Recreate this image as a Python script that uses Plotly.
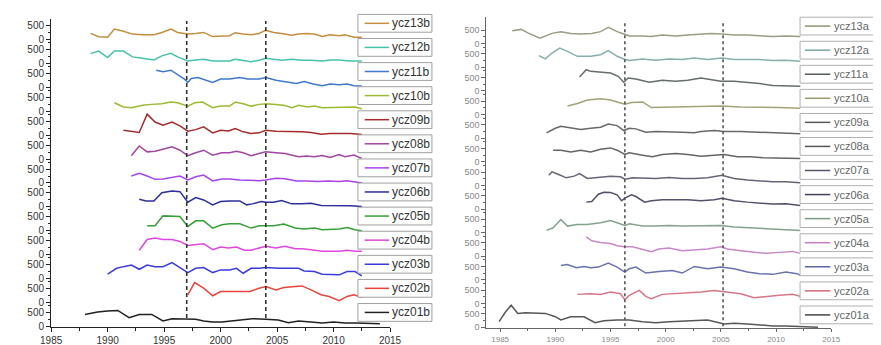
import plotly.graph_objects as go

W, H = 881, 345
FONT = "Arial, Liberation Sans, sans-serif"

# ---------------- left panel ("b" series) ----------------
years_ycz01b = [1988.0, 1989.1, 1990.0, 1990.9, 1991.9, 1992.8, 1993.9, 1994.9, 1995.7, 1996.4, 1997.1, 1997.8, 1998.5, 1999.3, 2000.1, 2001.0, 2002.0, 2002.8, 2004.0, 2005.1, 2006.0, 2006.9, 2008.0, 2009.0, 2010.0, 2011.0, 2012.0, 2013.1, 2014.1]
vals_ycz01b = [428, 512, 547, 571, 310, 428, 428, 190, 274, 274, 274, 250, 190, 155, 155, 190, 250, 274, 250, 226, 131, 190, 155, 119, 155, 119, 119, 95, 95]

years_ycz02b = [1997.1, 1997.7, 1998.5, 1999.3, 2000.0, 2000.8, 2001.7, 2002.6, 2003.4, 2004.0, 2004.9, 2005.6, 2006.6, 2007.2, 2008.0, 2008.9, 2009.6, 2010.5, 2011.2, 2011.8, 2012.5]
vals_ycz02b = [274, 714, 512, 238, 393, 393, 417, 393, 512, 571, 452, 536, 571, 595, 452, 274, 214, 60, 214, 274, 178]

years_ycz03b = [1990.0, 1990.8, 1991.4, 1992.1, 1992.8, 1993.5, 1994.2, 1994.9, 1995.7, 1996.4, 1997.1, 1997.8, 1998.5, 1999.3, 2000.0, 2000.8, 2001.4, 2002.0, 2002.7, 2003.4, 2004.0, 2005.1, 2006.0, 2006.9, 2007.4, 2008.3, 2009.0, 2009.7, 2010.5, 2011.2, 2011.9, 2012.5]
vals_ycz03b = [155, 369, 428, 488, 333, 488, 428, 428, 571, 393, 214, 369, 393, 214, 310, 310, 369, 190, 369, 369, 393, 369, 369, 369, 274, 250, 155, 155, 131, 250, 250, 95]

years_ycz04b = [1992.8, 1993.5, 1994.2, 1994.9, 1995.7, 1996.4, 1997.1, 1997.8, 1998.5, 1999.3, 2000.0, 2000.7, 2001.4, 2002.1, 2002.7, 2003.4, 2004.0, 2004.9, 2005.7, 2006.6, 2007.2, 2008.0, 2009.0, 2009.7, 2010.5, 2011.2, 2011.9, 2012.5]
vals_ycz04b = [155, 547, 595, 547, 547, 476, 333, 357, 393, 178, 274, 238, 274, 155, 155, 238, 297, 238, 297, 214, 214, 178, 120, 120, 120, 155, 120, 120]

years_ycz05b = [1993.5, 1994.2, 1994.9, 1995.7, 1996.4, 1997.1, 1997.8, 1998.5, 1999.3, 2000.1, 2000.8, 2001.7, 2002.7, 2003.4, 2004.0, 2004.7, 2005.6, 2006.6, 2007.4, 2008.3, 2009.0, 2009.7, 2010.5, 2011.2, 2011.9, 2012.5]
vals_ycz05b = [178, 178, 536, 536, 512, 155, 357, 357, 95, 214, 250, 250, 95, 178, 178, 178, 238, 95, 60, 95, 36, 36, 60, 119, 36, 0]

years_ycz06b = [1992.8, 1993.4, 1994.1, 1994.8, 1995.7, 1996.4, 1997.1, 1997.8, 1998.5, 1999.3, 2000.0, 2000.8, 2001.7, 2002.3, 2002.8, 2003.6, 2004.0, 2004.7, 2005.4, 2006.3, 2007.2, 2008.0, 2008.9, 2009.7, 2010.6, 2011.5, 2012.5]
vals_ycz06b = [274, 214, 214, 512, 570, 548, 167, 333, 250, 71, 190, 214, 214, 71, 107, 190, 167, 167, 226, 107, 107, 130, 48, 48, 48, 36, 12]

years_ycz07b = [1992.1, 1992.8, 1993.5, 1994.2, 1994.9, 1995.7, 1996.4, 1997.1, 1997.8, 1998.5, 1999.3, 2000.1, 2000.8, 2001.7, 2002.6, 2003.4, 2004.0, 2004.9, 2005.7, 2006.7, 2007.7, 2008.6, 2009.5, 2010.5, 2011.2, 2011.9, 2012.5]
vals_ycz07b = [250, 345, 250, 130, 143, 190, 250, 107, 226, 285, 71, 143, 143, 107, 83, 83, 107, 166, 155, 71, 71, 48, 71, 48, 83, 48, 0]

years_ycz08b = [1992.1, 1992.8, 1993.5, 1994.2, 1994.9, 1995.7, 1996.4, 1997.1, 1997.8, 1998.5, 1999.3, 2000.1, 2000.8, 2001.4, 2002.0, 2002.7, 2003.4, 2004.0, 2004.9, 2005.7, 2006.9, 2007.6, 2008.3, 2009.0, 2009.7, 2010.5, 2011.0, 2011.8, 2012.5]
vals_ycz08b = [120, 475, 260, 285, 357, 440, 320, 120, 226, 320, 143, 226, 226, 285, 226, 120, 200, 260, 226, 200, 83, 107, 83, 130, 60, 166, 83, 143, 24]

years_ycz09b = [1991.4, 1992.8, 1993.5, 1994.2, 1994.9, 1995.7, 1996.4, 1997.1, 1997.8, 1998.5, 1999.3, 2000.0, 2000.7, 2001.3, 2002.0, 2002.7, 2003.4, 2004.0, 2004.9, 2006.0, 2007.2, 2008.0, 2008.9, 2009.7, 2010.6, 2011.5, 2012.5]
vals_ycz09b = [178, 95, 760, 475, 357, 475, 333, 143, 200, 300, 83, 178, 155, 238, 120, 60, 83, 178, 143, 143, 120, 95, 36, 60, 60, 60, 24]

years_ycz10b = [1990.6, 1991.4, 1992.1, 1993.1, 1993.9, 1994.8, 1995.6, 1996.2, 1997.1, 1997.7, 1998.4, 1999.3, 2000.0, 2000.8, 2001.3, 2002.0, 2002.7, 2003.4, 2004.1, 2004.9, 2005.6, 2006.3, 2006.9, 2007.7, 2008.3, 2009.0, 2009.7, 2010.5, 2011.2, 2011.9, 2012.5]
vals_ycz10b = [310, 155, 130, 215, 250, 275, 333, 310, 180, 310, 333, 130, 190, 190, 333, 275, 180, 250, 275, 250, 215, 130, 215, 155, 190, 130, 130, 130, 155, 155, 95]

years_ycz11b = [1994.3, 1994.9, 1995.6, 1996.2, 1996.8, 1997.1, 1997.4, 1998.0, 1998.5, 1999.3, 2000.0, 2000.8, 2001.7, 2002.4, 2003.4, 2004.0, 2004.9, 2005.7, 2006.7, 2007.4, 2008.2, 2009.0, 2009.7, 2010.5, 2011.2, 2011.8, 2012.5]
vals_ycz11b = [620, 570, 620, 475, 300, 180, 320, 360, 300, 180, 300, 300, 360, 300, 300, 360, 260, 215, 140, 215, 120, 60, 120, 95, 120, 60, 50]

years_ycz12b = [1988.5, 1989.2, 1990.0, 1990.6, 1991.4, 1992.2, 1993.1, 1994.1, 1994.8, 1995.6, 1996.2, 1997.1, 1997.8, 1998.5, 1999.3, 2000.1, 2000.8, 2001.3, 2002.0, 2002.7, 2003.4, 2004.0, 2004.7, 2005.4, 2006.3, 2007.2, 2008.0, 2009.0, 2009.7, 2010.5, 2011.5, 2012.5]
vals_ycz12b = [357, 450, 215, 450, 450, 240, 190, 130, 275, 370, 240, 95, 130, 155, 95, 95, 95, 155, 120, 60, 120, 190, 155, 120, 155, 120, 120, 95, 130, 130, 95, 95]

years_ycz13b = [1988.5, 1989.2, 1990.0, 1990.6, 1991.4, 1992.2, 1993.1, 1994.1, 1994.8, 1995.6, 1996.2, 1997.1, 1997.8, 1998.5, 1999.3, 2000.1, 2000.8, 2001.3, 2002.0, 2002.7, 2003.4, 2004.0, 2004.7, 2005.4, 2006.3, 2006.9, 2007.6, 2008.3, 2009.0, 2009.7, 2010.5, 2011.0, 2011.8, 2012.5]
vals_ycz13b = [226, 107, 83, 380, 300, 200, 180, 180, 260, 380, 260, 200, 220, 260, 110, 140, 140, 250, 200, 180, 220, 340, 260, 220, 160, 200, 220, 200, 110, 180, 140, 180, 90, 90]

# ---------------- right panel ("a" series) ----------------
years_ycz01a = [1984.9, 1985.5, 1986.0, 1986.6, 1987.3, 1988.2, 1989.1, 1990.0, 1990.5, 1991.4, 1992.6, 1993.6, 1994.4, 1995.6, 1996.7, 1997.9, 1999.1, 2000.3, 2001.5, 2002.6, 2003.8, 2005.3, 2006.2, 2007.4, 2008.5, 2009.7, 2010.9, 2012.2, 2013.8]
vals_ycz01a = [210, 580, 827, 519, 543, 543, 519, 395, 272, 395, 395, 173, 247, 272, 272, 210, 173, 210, 235, 235, 272, 124, 148, 124, 86, 49, 49, 25, 0]

years_ycz02a = [1992.0, 1993.2, 1994.1, 1995.0, 1995.9, 1996.3, 1996.7, 1997.6, 1998.2, 1998.7, 1999.7, 2000.9, 2002.0, 2003.2, 2004.4, 2005.6, 2006.8, 2008.0, 2009.1, 2010.3, 2011.5, 2012.2]
vals_ycz02a = [346, 370, 346, 432, 370, 148, 309, 494, 272, 185, 346, 370, 395, 432, 494, 432, 370, 222, 272, 309, 346, 272]

years_ycz03a = [1990.5, 1991.1, 1991.9, 1992.6, 1993.2, 1993.9, 1994.8, 1995.6, 1996.3, 1996.7, 1997.3, 1998.2, 1999.4, 2000.6, 2001.5, 2002.6, 2003.8, 2005.0, 2006.2, 2007.4, 2008.5, 2009.7, 2010.9, 2011.9, 2012.2]
vals_ycz03a = [543, 580, 457, 506, 457, 482, 630, 482, 296, 420, 482, 259, 321, 358, 259, 506, 420, 482, 420, 296, 235, 210, 296, 235, 173]

years_ycz04a = [1992.8, 1993.3, 1994.1, 1995.0, 1995.6, 1996.3, 1997.0, 1997.9, 1998.7, 1999.4, 2000.3, 2001.5, 2002.6, 2003.8, 2005.0, 2005.6, 2006.8, 2008.0, 2009.1, 2010.3, 2011.5, 2012.2]
vals_ycz04a = [729, 580, 519, 482, 395, 358, 358, 272, 173, 272, 309, 210, 235, 272, 358, 272, 210, 148, 111, 148, 185, 111]

years_ycz05a = [1989.2, 1989.8, 1990.5, 1991.1, 1992.0, 1992.9, 1994.1, 1995.0, 1995.6, 1996.3, 1996.7, 1997.9, 1999.1, 2000.3, 2001.5, 2002.6, 2003.8, 2005.0, 2006.2, 2007.4, 2008.5, 2009.7, 2010.9, 2012.2]
vals_ycz05a = [86, 185, 494, 247, 309, 309, 370, 457, 370, 272, 333, 247, 247, 272, 247, 247, 272, 272, 210, 185, 185, 160, 123, 86]

years_ycz06a = [1992.8, 1993.3, 1993.9, 1994.4, 1995.0, 1995.6, 1996.0, 1996.3, 1996.9, 1997.3, 1998.1, 1998.7, 1999.7, 2000.9, 2002.0, 2003.2, 2004.4, 2005.1, 2006.2, 2007.4, 2008.5, 2009.7, 2010.9, 2012.2]
vals_ycz06a = [259, 284, 556, 630, 617, 531, 309, 408, 531, 469, 259, 309, 346, 346, 346, 309, 346, 408, 309, 259, 222, 185, 198, 136]

years_ycz07a = [1989.4, 1989.7, 1990.3, 1991.0, 1991.7, 1992.2, 1992.9, 1994.1, 1995.0, 1995.9, 1996.3, 1997.0, 1997.9, 1999.1, 2000.3, 2001.5, 2002.6, 2003.8, 2005.1, 2006.2, 2007.4, 2008.5, 2009.7, 2010.9, 2012.2]
vals_ycz07a = [383, 506, 408, 284, 346, 445, 259, 321, 346, 321, 235, 284, 284, 259, 296, 259, 259, 284, 383, 259, 198, 160, 136, 136, 99]

years_ycz08a = [1989.8, 1990.5, 1991.4, 1992.3, 1993.2, 1994.1, 1995.0, 1995.6, 1996.3, 1996.7, 1997.9, 1998.8, 1999.7, 2000.9, 2002.0, 2003.2, 2004.4, 2005.3, 2006.5, 2007.7, 2008.8, 2010.3, 2012.2]
vals_ycz08a = [432, 432, 370, 432, 370, 469, 519, 432, 272, 333, 247, 185, 272, 309, 272, 210, 247, 272, 185, 185, 148, 148, 124]

years_ycz09a = [1989.2, 1990.0, 1990.5, 1991.4, 1992.3, 1993.2, 1994.1, 1994.8, 1995.6, 1996.2, 1996.7, 1997.3, 1998.2, 1999.1, 2000.3, 2001.5, 2002.6, 2003.2, 2004.4, 2005.3, 2006.8, 2008.2, 2009.7, 2010.9, 2012.2]
vals_ycz09a = [198, 370, 445, 370, 321, 370, 408, 531, 469, 284, 370, 346, 222, 247, 247, 222, 198, 247, 284, 247, 247, 222, 198, 198, 160]

years_ycz10a = [1991.1, 1992.0, 1992.9, 1994.1, 1995.0, 1995.9, 1996.3, 1996.9, 1997.9, 1998.7, 2000.9, 2002.6, 2005.0, 2006.8, 2008.5, 2010.3, 2012.2]
vals_ycz10a = [321, 408, 543, 593, 543, 445, 383, 445, 469, 259, 284, 321, 321, 284, 284, 259, 235]

years_ycz11a = [1992.2, 1992.8, 1993.2, 1994.1, 1995.0, 1995.7, 1996.2, 1996.6, 1997.3, 1998.5, 1999.7, 2000.9, 2002.0, 2003.2, 2003.8, 2005.0, 2006.2, 2007.4, 2008.5, 2009.7, 2010.9, 2012.2]
vals_ycz11a = [519, 790, 729, 692, 667, 543, 321, 482, 445, 321, 395, 358, 395, 482, 445, 358, 358, 321, 272, 198, 198, 173]

years_ycz12a = [1988.5, 1989.1, 1989.7, 1990.4, 1991.1, 1992.0, 1993.2, 1994.1, 1994.8, 1995.6, 1996.2, 1996.7, 1997.9, 1999.1, 2000.3, 2001.5, 2002.6, 2003.8, 2005.1, 2006.2, 2007.4, 2008.5, 2009.7, 2010.9, 2012.2]
vals_ycz12a = [432, 309, 531, 716, 593, 407, 407, 469, 617, 407, 309, 247, 309, 260, 309, 284, 346, 284, 346, 284, 284, 284, 247, 260, 222]

years_ycz13a = [1986.1, 1986.9, 1987.6, 1988.6, 1989.7, 1990.5, 1991.4, 1992.3, 1993.3, 1994.1, 1994.8, 1995.6, 1996.2, 1996.7, 1997.9, 1998.7, 1999.7, 2000.9, 2002.0, 2003.2, 2004.1, 2005.1, 2006.2, 2007.4, 2008.5, 2009.7, 2010.9, 2012.2]
vals_ycz13a = [480, 530, 380, 200, 380, 445, 380, 360, 380, 445, 605, 445, 360, 285, 285, 260, 320, 285, 320, 360, 380, 360, 320, 320, 295, 260, 285, 260]

left_names = ["ycz01b", "ycz02b", "ycz03b", "ycz04b", "ycz05b", "ycz06b", "ycz07b",
              "ycz08b", "ycz09b", "ycz10b", "ycz11b", "ycz12b", "ycz13b"]
left_years = [years_ycz01b, years_ycz02b, years_ycz03b, years_ycz04b, years_ycz05b, years_ycz06b, years_ycz07b,
              years_ycz08b, years_ycz09b, years_ycz10b, years_ycz11b, years_ycz12b, years_ycz13b]
left_vals = [vals_ycz01b, vals_ycz02b, vals_ycz03b, vals_ycz04b, vals_ycz05b, vals_ycz06b, vals_ycz07b,
             vals_ycz08b, vals_ycz09b, vals_ycz10b, vals_ycz11b, vals_ycz12b, vals_ycz13b]
left_colors = ["#222222", "#e8453c", "#3b3be0", "#e046e0", "#35a035", "#2e2e9e", "#a844f0",
               "#a345a3", "#a52c2c", "#9cba32", "#4078d0", "#45c2ac", "#c48e3e"]

right_names = ["ycz01a", "ycz02a", "ycz03a", "ycz04a", "ycz05a", "ycz06a", "ycz07a",
               "ycz08a", "ycz09a", "ycz10a", "ycz11a", "ycz12a", "ycz13a"]
right_years = [years_ycz01a, years_ycz02a, years_ycz03a, years_ycz04a, years_ycz05a, years_ycz06a, years_ycz07a,
               years_ycz08a, years_ycz09a, years_ycz10a, years_ycz11a, years_ycz12a, years_ycz13a]
right_vals = [vals_ycz01a, vals_ycz02a, vals_ycz03a, vals_ycz04a, vals_ycz05a, vals_ycz06a, vals_ycz07a,
              vals_ycz08a, vals_ycz09a, vals_ycz10a, vals_ycz11a, vals_ycz12a, vals_ycz13a]
right_colors = ["#464646", "#d3687a", "#5a64a6", "#c47cc4", "#789a80", "#40405a", "#55556a",
                "#555555", "#585858", "#9a9a6a", "#565e5e", "#78a8a6", "#8e9474"]

x_ticks = [1985, 1990, 1995, 2000, 2005, 2010, 2015]
y_tick_labels = ["0", "500"]
left_markers = [1997, 2004]
right_markers = [1996.3, 2005.2]

# ---------------- layout geometry (pixels) ----------------
STEP_L = 863.0        # vertical offset between stacked strips (left)
STEP_R = 886.0        # (right)
YR_L = [-36, 11106]
YR_R = [-37, 11630]


def px_x(p):
    return p / W


def px_y(p):
    return 1 - p / H


fig = go.Figure()

for k, (nm, xs, vs, c) in enumerate(zip(left_names, left_years, left_vals, left_colors)):
    fig.add_trace(go.Scatter(
        x=xs, y=[v + k * STEP_L for v in vs], customdata=vs, name=nm, mode="lines",
        line=dict(color=c, width=1.5), xaxis="x", yaxis="y", showlegend=False,
        hovertemplate=nm + ": %{x}, %{customdata}<extra></extra>"))

for k, (nm, xs, vs, c) in enumerate(zip(right_names, right_years, right_vals, right_colors)):
    fig.add_trace(go.Scatter(
        x=xs, y=[v + k * STEP_R for v in vs], customdata=vs, name=nm, mode="lines",
        line=dict(color=c, width=1.5), xaxis="x2", yaxis="y2", showlegend=False,
        opacity=0.9,
        hovertemplate=nm + ": %{x}, %{customdata}<extra></extra>"))


def ytick_setup(step):
    vals, txt, minor = [], [], []
    for k in range(13):
        vals += [k * step, k * step + 500]
        txt += y_tick_labels
        minor += [k * step + 250]
        if k < 12:
            minor += [k * step + 750]
    return vals, txt, minor


yv_l, yt_l, ym_l = ytick_setup(STEP_L)
yv_r, yt_r, ym_r = ytick_setup(STEP_R)

shapes = []
annotations = []

# dashed reference lines
for xv in left_markers:
    shapes.append(dict(type="line", xref="x", yref="y", x0=xv, x1=xv, y0=300, y1=11030,
                       line=dict(color="#333333", width=1.6, dash="4px,3px"), layer="above"))
for xv in right_markers:
    shapes.append(dict(type="line", xref="x2", yref="y2", x0=xv, x1=xv, y0=40, y1=11480,
                       line=dict(color="#555555", width=1.6, dash="3px,3px"), layer="above"))

# boxed legend entries (one box per series)
for k in range(13):
    cy = 308 - k * 24.375
    shapes.append(dict(type="rect", xref="paper", yref="paper",
                       x0=px_x(348), x1=px_x(424), y0=px_y(cy + 9), y1=px_y(cy - 9),
                       line=dict(color="#a0a0a0", width=1), fillcolor="white", layer="above"))
    shapes.append(dict(type="line", xref="paper", yref="paper",
                       x0=px_x(355), x1=px_x(380), y0=px_y(cy), y1=px_y(cy),
                       line=dict(color=left_colors[k], width=1.5), layer="above"))
    annotations.append(dict(xref="paper", yref="paper", x=px_x(381), y=px_y(cy),
                            xanchor="left", yanchor="middle", showarrow=False,
                            text=left_names[k], font=dict(family=FONT, size=12, color="#333333")))

for k in range(13):
    cy = 310.5 - k * 24.35
    shapes.append(dict(type="rect", xref="paper", yref="paper",
                       x0=px_x(802), x1=px_x(879), y0=px_y(cy + 9), y1=px_y(cy - 9),
                       line=dict(color="#b0b0b0", width=1), fillcolor="white", layer="above"))
    shapes.append(dict(type="line", xref="paper", yref="paper",
                       x0=px_x(807), x1=px_x(833), y0=px_y(cy), y1=px_y(cy),
                       line=dict(color=right_colors[k], width=1.5), layer="above"))
    annotations.append(dict(xref="paper", yref="paper", x=px_x(835), y=px_y(cy),
                            xanchor="left", yanchor="middle", showarrow=False,
                            text=right_names[k], font=dict(family=FONT, size=11, color="#666666")))

fig.update_layout(
    width=W, height=H, autosize=False,
    margin=dict(l=0, r=0, t=0, b=0, pad=0),
    paper_bgcolor="white", plot_bgcolor="white",
    font=dict(family=FONT),
    showlegend=False,
    shapes=shapes, annotations=annotations,
    xaxis=dict(domain=[px_x(33), px_x(381)], range=[1985, 2015], anchor="y",
               tickvals=x_ticks, ticks="outside", ticklen=4, tickwidth=1, tickcolor="#222",
               showline=True, linecolor="#222", linewidth=1.2, showgrid=False, zeroline=False,
               tickfont=dict(size=10, color="#333"),
               minor=dict(dtick=2.5, tick0=1985, ticks="outside", ticklen=2.5, tickcolor="#222")),
    yaxis=dict(domain=[px_y(323), px_y(11)], range=YR_L, anchor="x",
               tickmode="array", tickvals=yv_l, ticktext=yt_l,
               ticks="outside", ticklen=4, tickwidth=1, tickcolor="#222",
               showline=True, linecolor="#222", linewidth=1.2, showgrid=False, zeroline=False,
               tickfont=dict(size=10, color="#333"),
               minor=dict(tickmode="array", tickvals=ym_l, ticks="outside", ticklen=2.5, tickcolor="#222")),
    xaxis2=dict(domain=[px_x(480), px_x(834)], range=[1983.76, 2015], anchor="y2",
                tickvals=x_ticks, ticks="outside", ticklen=3, tickwidth=1, tickcolor="#666",
                showline=True, linecolor="#666", linewidth=1.2, showgrid=False, zeroline=False,
                tickfont=dict(size=8, color="#888"),
                minor=dict(dtick=2.5, tick0=1985, ticks="outside", ticklen=2, tickcolor="#666")),
    yaxis2=dict(domain=[px_y(324), px_y(9)], range=YR_R, anchor="x2",
                tickmode="array", tickvals=yv_r, ticktext=yt_r,
                ticks="outside", ticklen=4, tickwidth=1, tickcolor="#666",
                showline=True, linecolor="#666", linewidth=1.2, showgrid=False, zeroline=False,
                tickfont=dict(size=9, color="#888"),
                minor=dict(tickmode="array", tickvals=ym_r, ticks="outside", ticklen=2.5, tickcolor="#666")),
)

fig.write_html("out.html")
